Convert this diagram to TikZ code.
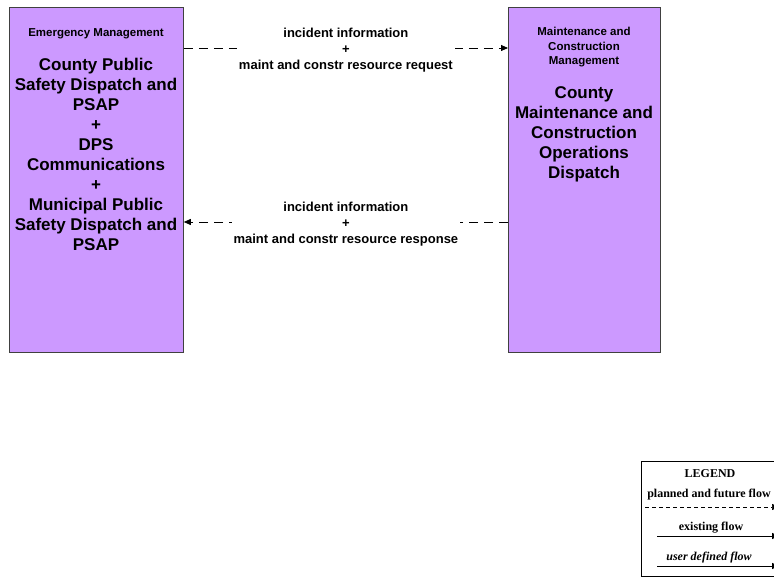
\documentclass[tikz,border=0pt]{standalone}
\usepackage{fontspec}
\setmainfont{Liberation Serif}
\setsansfont{Liberation Sans}
\usetikzlibrary{arrows.meta,positioning}
\definecolor{boxpurple}{HTML}{CC99FF}
\tikzset{
	subsys/.style={draw=black!75, fill=boxpurple, line width=0.8pt, inner sep=0pt, anchor=north west, minimum height=345pt},
	boxtitle/.style={font=\sffamily\bfseries\fontsize{11.5}{14.5}\selectfont, align=center, inner sep=0pt},
	boxname/.style={font=\sffamily\bfseries\fontsize{17}{20}\selectfont, align=center, inner sep=0pt},
	flowline/.style={line width=0.8pt, dash pattern=on 9pt off 6pt},
	flowlabel/.style={fill=white, font=\sffamily\bfseries\fontsize{13}{16}\selectfont, align=center, inner xsep=2pt, inner ysep=0pt, yshift=-2pt},
	legendtext/.style={font=\rmfamily\bfseries\fontsize{12}{14}\selectfont, inner sep=0pt},
}
\begin{document}
\begin{tikzpicture}[x=1pt, y=-1pt, >={Triangle[length=7pt, width=6pt]}]
	\useasboundingbox (0,0) rectangle (774,577);
	% the two subsystems
	\node[subsys, minimum width=174pt] (ems) at (9,7) {};
	\node[subsys, minimum width=152pt] (mcm) at (508,7) {};
	\node[boxtitle] (emstitle) at (96,34) {Emergency Management};
	\node[boxname, anchor=north] (emsname) at (96,58) {County Public\\Safety Dispatch and\\PSAP\\+\\DPS\\Communications\\+\\Municipal Public\\Safety Dispatch and\\PSAP};
	\node[boxtitle, anchor=north] (mcmtitle) at (584,27) {Maintenance and\\Construction\\Management};
	\node[boxname, anchor=north] (mcmname) at (584,86) {County\\Maintenance and\\Construction\\Operations\\Dispatch};
	% the flows between them
	\coordinate (reqy) at (0,48);
	\coordinate (resy) at (0,222);
	\draw[flowline, ->] (ems.east |- reqy) -- (mcm.west |- reqy)
		node[flowlabel, midway] (reqlabel) {incident information\\+\\maint and constr resource request};
	\draw[flowline, ->] (mcm.west |- resy) -- (ems.east |- resy)
		node[flowlabel, midway] (reslabel) {incident information\\+\\maint and constr resource response};
	% legend, cut off at the right edge
	\node[draw, line width=0.8pt, anchor=north west, minimum width=150pt, minimum height=115pt] (legend) at (641,461) {};
	\node[legendtext] (legendhead) at (710,474) {LEGEND};
	\node[legendtext] (planned) at (709,495) {planned and future flow};
	\node[legendtext] (existing) at (711,528) {existing flow};
	\node[legendtext, font=\rmfamily\bfseries\itshape\fontsize{12}{14}\selectfont] (userdef) at (709,558) {user defined flow};
	\coordinate (plannedend) at (779,507);
	\coordinate (existingend) at (779,536);
	\coordinate (userdefend) at (779,566);
	\draw[line width=0.7pt, dash pattern=on 4pt off 3pt, ->] (645,507) -- (plannedend);
	\draw[line width=0.8pt, ->] (657,536) -- (existingend);
	\draw[line width=0.8pt, ->] (657,566) -- (userdefend);
\end{tikzpicture}
\end{document}
